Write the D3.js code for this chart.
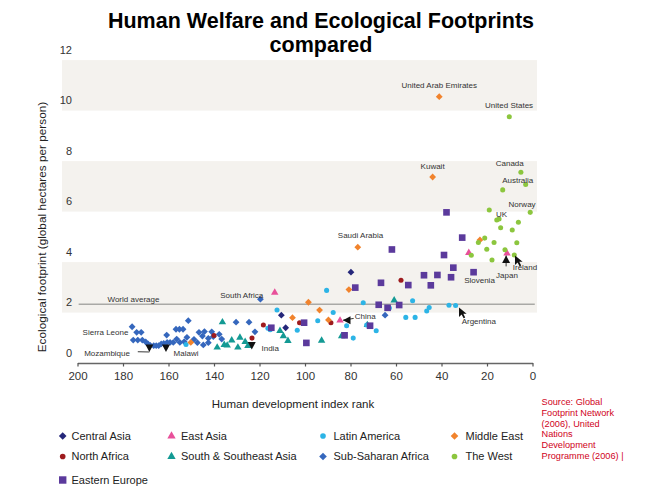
<!DOCTYPE html>
<html>
<head>
<meta charset="utf-8">
<script src="https://cdn.jsdelivr.net/npm/d3@7"></script>
<style>
  html, body { margin: 0; padding: 0; background: #fff; }
  svg { display: block; }
  text { font-family: "Liberation Sans", Arial, sans-serif; }
</style>
</head>
<body>
<svg id="chart" width="650" height="488"></svg>
<script>
// ---------------- DATA ----------------
const titleLines = ["Human Welfare and Ecological Footprints", "compared"];
const xTicks = [200, 180, 160, 140, 120, 100, 80, 60, 40, 20, 0];
const yTicks = [0, 2, 4, 6, 8, 10, 12];
const xTitle = "Human development index rank";
const yTitle = "Ecological footprint (global hectares per person)";
const worldAverage = 1.93;
const bands = [[1.6, 3.6], [5.6, 7.6], [9.6, 11.6]];
const bandRankExtent = [206.8, -2];

// [HDI rank, footprint gha/person]
const centralAsia = [[79.8,3.2],[110.4,1.5],[108.5,1.0]];
const eastAsia = [[113.3,2.39],[84.6,1.29],[28,3.97],[11.2,3.95]];
const latinAmerica = [[152.3,0.34],[116.3,0.98],[115.3,0.92],[112.3,1.70],[103.4,0.90],[94.4,1.28],[90.5,2.48],
  [87.6,1.6],[81.7,1.08],[78.8,0.59],[74.4,1.99],[72.9,1.11],[68.7,0.88],[62.9,1.78],[55.7,1.41],[52.7,2.07],
  [51.6,1.41],[46.5,1.66],[45.4,1.80],[36.7,1.89],[33.8,1.88]];
const middleEast = [[150.2,0.42],[105.5,1.4],[98.5,2.01],[93.6,1.7],[89.7,1.31],[80.7,2.51],[76.8,4.19],
  [43.9,6.97],[41,10.15],[23.1,4.48]];
const northAfrica = [[140,0.69],[123.3,0.59],[118.3,1.11],[102.4,1.2],[88.6,1.2],[57.8,2.88]];
const southAsia = [[136.3,1.22],[138.6,0.22],[135.5,0.32],[134.2,0.30],[132.2,0.50],[129.5,0.22],[128.6,0.61],
  [126.3,0.44],[125.1,0.28],[111,0.88],[109.5,0.67],[107.5,0.48],[92.7,0.49],[83.9,0.67],[72.6,1.11],[60.8,2.09]];
const subSaharan = [[176,1.04],[174,0.82],[172,0.82],[175.5,0.51],[173.5,0.51],[171.5,0.51],[170,0.44],[169,0.36],
  [168,0.3],[166.5,0.29],[165.4,0.29],[164.3,0.29],[163.2,0.36],[162.1,0.38],[160.8,0.71],[160.6,0.42],[159.3,0.42],
  [157.9,0.42],[156.7,0.94],[155.2,0.94],[153.6,0.94],[156.4,0.55],[155,0.42],[153.1,0.45],[151.9,0.62],[151.3,1.28],
  [148.8,0.54],[147.3,0.41],[146.6,0.82],[145.1,0.67],[144.2,0.85],[144.7,0.32],[142.5,0.41],[142.5,0.58],[141,0.84],
  [140.3,0.65],[137.7,0.74],[136.6,0.55],[130.3,1.22],[124.6,1.22],[122,0.84],[119.6,2.13],[64.8,1.5]];
const theWest = [[10.2,9.36],[5.1,7.16],[3.0,6.67],[13.1,6.46],[1.0,5.57],[19,5.66],[15.7,5.27],[14.7,5.31],
  [6.2,5.18],[14,4.96],[8.9,4.87],[21,4.55],[23.8,4.38],[16.9,4.38],[6.9,4.37],[20.1,4.11],[12.1,4.09],
  [26.9,3.87],[8,3.88],[17.8,3.68]];
const easternEurope = [[114.8,1.0],[100.4,1.2],[99.4,0.40],[82.6,0.70],[77.9,2.59],[71.4,1.08],[67.6,1.91],
  [66.6,2.78],[63.7,1.79],[61.8,4.1],[58.6,1.9],[54.6,2.69],[47.7,3.08],[44.7,2.68],[41.8,3.09],[38.9,3.88],
  [37.8,5.57],[35.8,3.0],[34.8,3.38],[30.9,4.57],[25.9,3.2]];

const regionNames = ["Central Asia","East Asia","Latin America","Middle East","North Africa",
  "South & Southeast Asia","Sub-Saharan Africa","The West","Eastern Europe"];
const regionColors = ["#25277a","#e8509a","#2cb4e6","#f1832c","#9e1b1e","#139a94","#3567bd","#8cc63e","#5b3a9c"];
const regionShapes = ["diamond","triangle","circle","diamond","circle","triangle","diamond","circle","square"];
const regionData = [centralAsia,eastAsia,latinAmerica,middleEast,northAfrica,southAsia,subSaharan,theWest,easternEurope];
const drawOrder = [6,5,4,0,2,3,8,1,7];

// country labels [text, rank, value]
const countryLabels = [
  ["United Arab Emirates",41,10.6],["United States",10.3,9.8],["Kuwait",43.9,7.4],["Canada",10,7.5],
  ["Australia",6.5,6.85],["Norway",4.6,5.9],["UK",13.6,5.5],["Saudi Arabia",75.6,4.65],["Slovenia",23.3,2.88],
  ["Japan",11.2,3.07],["Ireland",3.3,3.4],["Argentina",23.6,1.24],["China",73.5,1.46],["South Africa",127.8,2.29],
  ["World average",175.4,2.14],["Sierra Leone",187.7,0.82],["Mozambique",187,-0.01],["Malawi",152.3,-0.01],["India",115.3,0.18]
];
// pointer arrows [rank, value of tip, direction deg (0 = right, 90 = down), leader end rank, leader end value]
const arrows = [
  [168.4,0.04,90,173.5,0.05],[161.1,0.04,90,null,null],[123.4,0.14,90,null,null],
  [83.3,1.3,180,78.6,1.37],[11.6,3.86,-90,11.6,3.43]
];
// cursor-style arrows [rank, value of tip]
const cursors = [[7.7,3.86],[32.3,1.8]];
const sourceLines = ["Source: Global","Footprint Network","(2006), United","Nations","Development","Programme (2006) |"];

// ---------------- DRAW ----------------
const svg = d3.select("#chart");
const x = d3.scaleLinear().domain([200, 0]).range([77.5, 532.5]);
const y = d3.scaleLinear().domain([0, 12]).range([353, 50]);

// bands
svg.append("g").selectAll("rect").data(bands).join("rect")
  .attr("x", x(bandRankExtent[0])).attr("width", x(bandRankExtent[1]) - x(bandRankExtent[0]))
  .attr("y", d => y(d[1])).attr("height", d => y(d[0]) - y(d[1]))
  .attr("fill", "#f4f2ee");

// title
svg.append("g").selectAll("text").data(titleLines).join("text")
  .attr("x", 321).attr("y", (d, i) => 28 + i * 24)
  .attr("text-anchor", "middle").attr("font-size", 21.5).attr("font-weight", "bold")
  .attr("fill", "#000").text(d => d);

// y tick labels
svg.append("g").selectAll("text").data(yTicks).join("text")
  .attr("x", x(200) - 5.5).attr("y", d => y(d)).attr("dy", "0.35em")
  .attr("text-anchor", "end").attr("font-size", 11).attr("fill", "#333").text(d => d);

// world average line
svg.append("line").attr("x1", x(199.5)).attr("x2", x(-1)).attr("y1", y(worldAverage)).attr("y2", y(worldAverage))
  .attr("stroke", "#a9a9a6").attr("stroke-width", 1.6);

// x axis
const xAxis = d3.axisBottom(x).tickValues(xTicks).tickSize(3.5).tickSizeOuter(0).tickPadding(5);
const gx = svg.append("g").attr("transform", `translate(0,${y(0) + 10})`).call(xAxis);
gx.select(".domain").attr("stroke", "#666").attr("stroke-width", 1.6);
gx.selectAll(".tick line").attr("stroke", "#555").attr("stroke-width", 1.2);
gx.selectAll(".tick text").attr("font-size", 11.5).attr("fill", "#333")
  .attr("font-family", "'Liberation Sans', Arial, sans-serif");

// axis titles
svg.append("text").attr("x", 293).attr("y", 408).attr("text-anchor", "middle")
  .attr("font-size", 11.5).attr("fill", "#222").text(xTitle);
svg.append("text").attr("transform", "translate(46,227) rotate(-90)").attr("text-anchor", "middle")
  .attr("font-size", 11.8).attr("fill", "#222").text(yTitle);

// symbols
function sym(shape, scale) {
  const k = scale || 1;
  if (shape === "diamond") {
    const r = 3.4 * k;
    return `M0,${-r}L${r},0L0,${r}L${-r},0Z`;
  }
  if (shape === "square") return d3.symbol().type(d3.symbolSquare).size(44 * k * k)();
  if (shape === "triangle") return d3.symbol().type(d3.symbolTriangle).size(24 * k * k)();
  return d3.symbol().type(d3.symbolCircle).size(20 * k * k)();
}

const gp = svg.append("g");
drawOrder.forEach(i => {
  gp.append("g").selectAll("path").data(regionData[i]).join("path")
    .attr("transform", d => `translate(${x(d[0])},${y(d[1])})`)
    .attr("d", sym(regionShapes[i]))
    .attr("fill", regionColors[i]);
});

// arrows
const ga = svg.append("g");
arrows.forEach(a => {
  const tx = x(a[0]), ty = y(a[1]);
  if (a[3] !== null) {
    ga.append("line").attr("x1", tx).attr("y1", ty).attr("x2", x(a[3])).attr("y2", y(a[4]))
      .attr("stroke", "#222").attr("stroke-width", 0.9);
  }
  ga.append("path").attr("d", "M0,0 L-7.5,-4 L-7.5,4 Z")
    .attr("transform", `translate(${tx},${ty}) rotate(${a[2]})`).attr("fill", "#111");
});
cursors.forEach(c => {
  ga.append("path").attr("d", "M0,0 L0,9.5 L2.6,7 L4.6,10.8 L6.2,10 L4.3,6.3 L7.6,6.3 Z")
    .attr("transform", `translate(${x(c[0])},${y(c[1])})`).attr("fill", "#111");
});

// country labels
svg.append("g").selectAll("text").data(countryLabels).join("text")
  .attr("x", d => x(d[1])).attr("y", d => y(d[2])).attr("dy", "0.35em")
  .attr("text-anchor", "middle").attr("font-size", 8).attr("fill", "#333").text(d => d[0]);

// legend
const legCols = [[62.7, 71.5], [171.5, 181], [323, 333.5], [454.5, 465.5]];
const legRows = [436, 456.5, 480];
const lg = svg.append("g");
regionNames.forEach((name, k) => {
  const col = k % 4, row = Math.floor(k / 4);
  const mx = legCols[col][0], tx = legCols[col][1], ly = legRows[row];
  lg.append("path").attr("transform", `translate(${mx},${ly})`)
    .attr("d", sym(regionShapes[k], 1.12)).attr("fill", regionColors[k]);
  lg.append("text").attr("x", tx).attr("y", ly).attr("dy", "0.36em")
    .attr("font-size", 11).attr("fill", "#222").text(name);
});

// source
svg.append("g").selectAll("text").data(sourceLines).join("text")
  .attr("x", 541.5).attr("y", (d, i) => 401.7 + i * 10.8).attr("dy", "0.35em")
  .attr("font-size", 9.2).attr("fill", "#d0021b").text(d => d);
</script>
</body>
</html>
